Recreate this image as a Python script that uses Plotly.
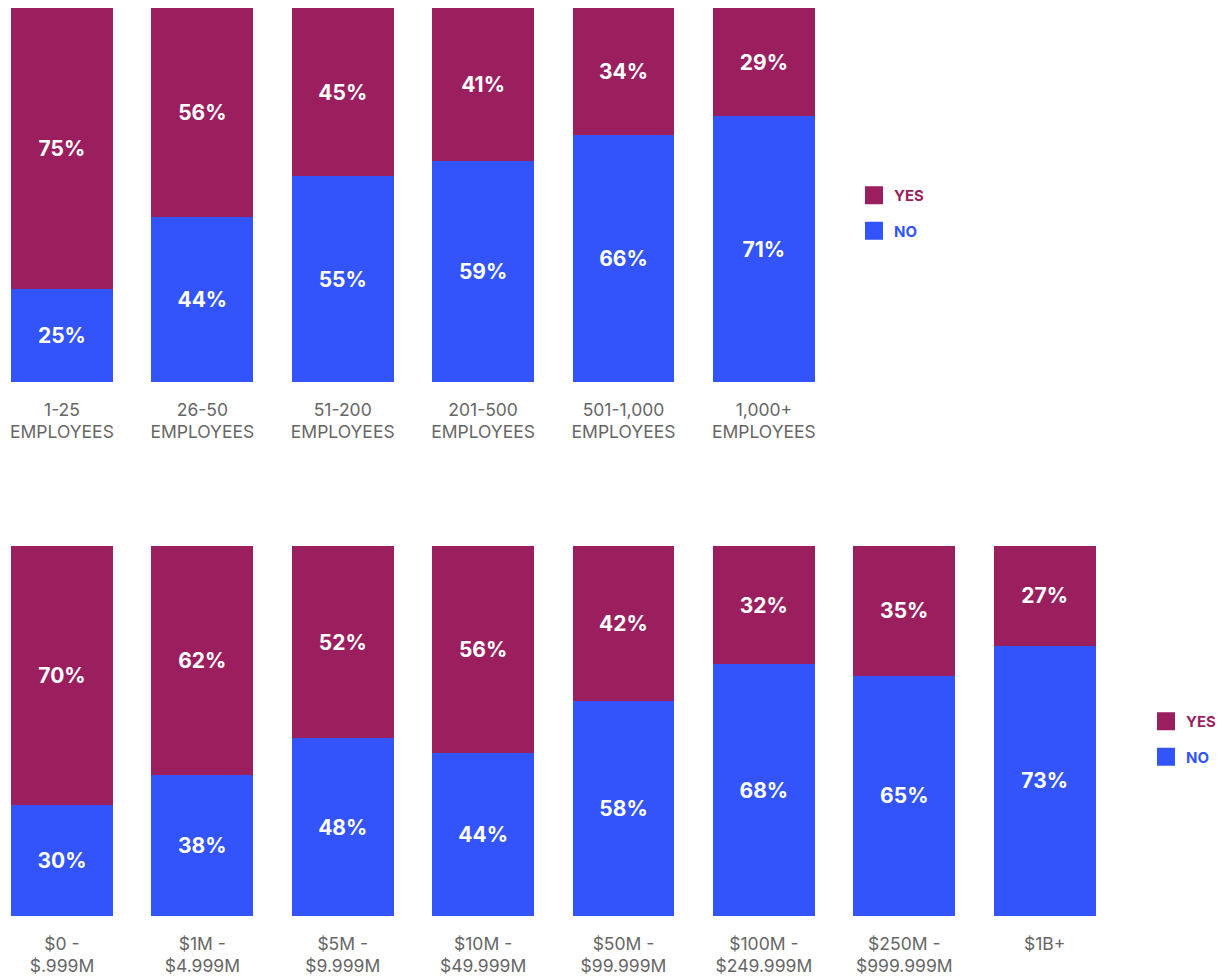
import plotly.graph_objects as go

# Survey responses split by company size and by annual revenue
size_groups = ["1-25<br>EMPLOYEES", "26-50<br>EMPLOYEES", "51-200<br>EMPLOYEES",
               "201-500<br>EMPLOYEES", "501-1,000<br>EMPLOYEES", "1,000+<br>EMPLOYEES"]
size_yes = [75, 56, 45, 41, 34, 29]
size_no = [25, 44, 55, 59, 66, 71]

revenue_groups = ["$0 -<br>$.999M", "$1M -<br>$4.999M", "$5M -<br>$9.999M",
                  "$10M -<br>$49.999M", "$50M -<br>$99.999M", "$100M -<br>$249.999M",
                  "$250M -<br>$999.999M", "$1B+"]
revenue_yes = [70, 62, 52, 56, 42, 32, 35, 27]
revenue_no = [30, 38, 48, 44, 58, 68, 65, 73]

YES_COLOR = "#9B1F5F"
NO_COLOR = "#3254FA"
FONT = "Inter"

fig = go.Figure()


def add_stack(cats, no_vals, yes_vals, xref, yref, legend):
    # NO at the bottom of each stack, YES on top
    for name, vals, color in (("NO", no_vals, NO_COLOR), ("YES", yes_vals, YES_COLOR)):
        fig.add_trace(go.Bar(
            x=cats, y=vals, xaxis=xref, yaxis=yref,
            marker=dict(color=color, line=dict(width=0)),
            text=[f"{v}%" for v in vals], textposition="inside",
            insidetextanchor="middle", constraintext="none",
            textfont=dict(family=FONT, size=21, color="white", weight="bold"),
            showlegend=False, hoverinfo="skip",
        ))
    # legend entries (YES listed first) with larger square swatches
    for name, color, grp in (("YES", YES_COLOR, "y"), ("NO", NO_COLOR, "n")):
        fig.add_trace(go.Scatter(
            x=[None], y=[None], xaxis=xref, yaxis=yref, mode="markers",
            marker=dict(symbol="square", size=16, color=color,
                        line=dict(width=2, color=color)),
            name=f"<b><span style='color:{color}'>{name}</span></b>",
            legend=legend, legendgroup=legend + grp, showlegend=True,
        ))


add_stack(size_groups, size_no, size_yes, "x", "y", "legend")
add_stack(revenue_groups, revenue_no, revenue_yes, "x2", "y2", "legend2")

W, H = 1222, 980
cat_px = 140.5
x0 = -62 / cat_px
xrange = [x0, x0 + W / cat_px]

axis_x = dict(type="category", range=xrange, showgrid=False, zeroline=False,
              showline=False, ticks="", ticklabelstandoff=15,
              tickfont=dict(family=FONT, size=17.5, color="#666666"),
              fixedrange=True)
axis_y = dict(range=[0, 100], showgrid=False, zeroline=False, showline=False,
              showticklabels=False, fixedrange=True)

legend_style = dict(font=dict(family=FONT, size=15), bgcolor="rgba(0,0,0,0)",
                    traceorder="grouped", tracegroupgap=13, itemclick=False,
                    itemdoubleclick=False, xanchor="left", yanchor="middle")

fig.update_layout(
    width=W, height=H,
    margin=dict(l=0, r=0, t=0, b=0),
    paper_bgcolor="white", plot_bgcolor="white",
    barmode="stack", bargap=0.274,
    font=dict(family=FONT),
    xaxis=dict(axis_x, domain=[0, 1], anchor="y"),
    yaxis=dict(axis_y, domain=[1 - 382 / H, 1 - 8 / H], anchor="x"),
    xaxis2=dict(axis_x, domain=[0, 1], anchor="y2"),
    yaxis2=dict(axis_y, domain=[1 - 916 / H, 1 - 546 / H], anchor="x2"),
    legend=dict(legend_style, x=854 / W, y=1 - 213 / H),
    legend2=dict(legend_style, x=1147 / W, y=1 - 739 / H),
)

fig.write_html("out.html", config=dict(displayModeBar=False))
